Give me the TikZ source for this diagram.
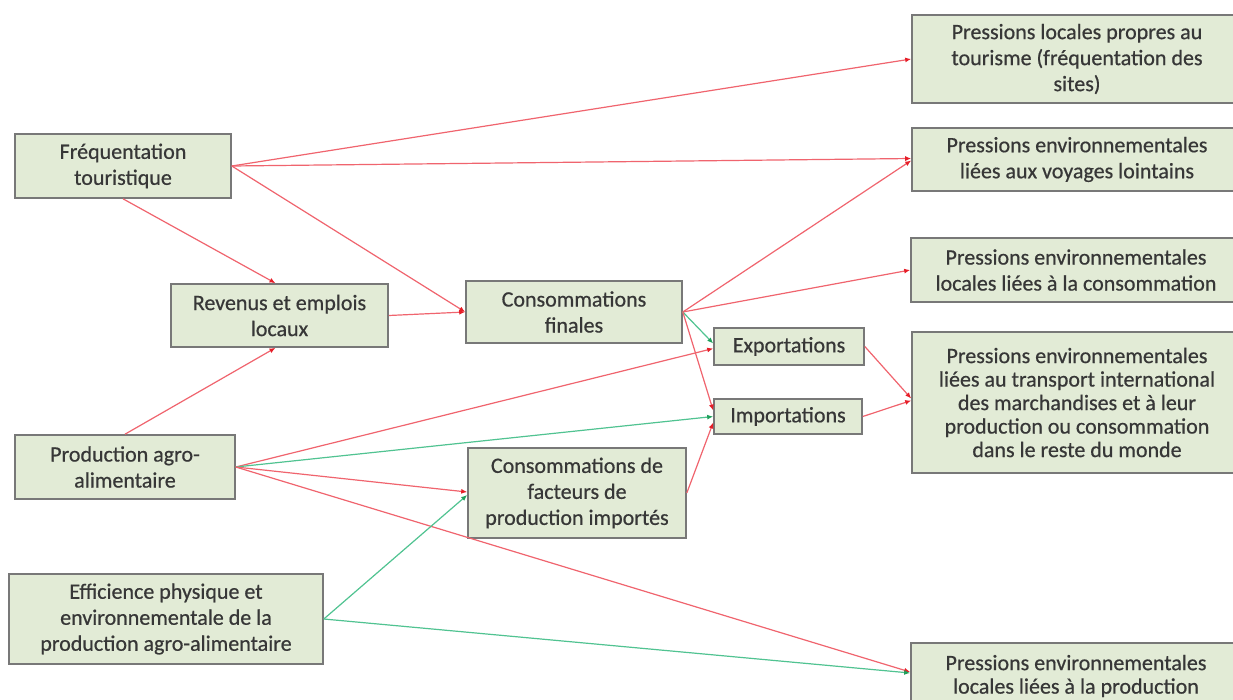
\documentclass[tikz,border=0pt]{standalone}
\usepackage{fontspec}
\setmainfont{Carlito}[FakeBold=0.6]
\usetikzlibrary{arrows.meta,calc}
\definecolor{boxfill}{RGB}{226,235,214}
\definecolor{boxdraw}{RGB}{120,120,120}
\definecolor{txt}{RGB}{55,55,55}
\definecolor{lred}{RGB}{240,100,110}
\definecolor{tred}{RGB}{230,30,40}
\definecolor{lgreen}{RGB}{80,195,145}
\definecolor{tgreen}{RGB}{30,160,90}
\tikzset{
  bx/.style={draw=boxdraw, line width=1.6pt, fill=boxfill, text=txt, align=center, inner sep=0pt,
    font=\fontsize{22}{26}\selectfont},
  tight/.style={font=\fontsize{22}{23.5}\selectfont},
  rl/.style={draw=lred, line width=1.2pt, -{Latex[length=6pt,width=5pt,color=tred]}},
  gl/.style={draw=lgreen, line width=1.2pt, -{Latex[length=6pt,width=5pt,color=tgreen]}},
}
\begin{document}
\begin{tikzpicture}[x=1pt,y=-1pt]
\useasboundingbox (0,0) rectangle (1233,699);
\fill[white] (0,0) rectangle (1233,699);
% right column
\node[bx, minimum width=330pt, minimum height=88pt] (P1) at (1077,59) {Pressions locales propres au\\tourisme (fréquentation des\\sites)};
\node[bx, minimum width=330pt, minimum height=63pt] (P2) at (1077,159.5) {Pressions environnementales\\liées aux voyages lointains};
\node[bx, minimum width=330pt, minimum height=64pt] (P3) at (1076,270) {Pressions environnementales\\locales liées à la consommation};
\node[bx, tight, minimum width=330pt, minimum height=141pt] (P4) at (1077,402.5) {Pressions environnementales\\liées au transport international\\des marchandises et à leur\\production ou consommation\\dans le reste du monde};
\node[bx, tight, minimum width=330pt, minimum height=66pt] (P5) at (1076,676) {Pressions environnementales\\locales liées à la production};
% left and middle
\node[bx, minimum width=216pt, minimum height=64pt] (F) at (123,166) {Fréquentation\\touristique};
\node[bx, minimum width=217pt, minimum height=63pt] (R) at (279.5,315.5) {Revenus et emplois\\locaux};
\node[bx, minimum width=216pt, minimum height=62pt] (CF) at (574,312) {Consommations\\finales};
\node[bx, minimum width=150pt, minimum height=37pt] (E) at (789,346.5) {Exportations};
\node[bx, minimum width=148pt, minimum height=35pt] (I) at (788,416.5) {Importations};
\node[bx, minimum width=218pt, minimum height=90pt] (CFP) at (577,493) {Consommations de\\facteurs de\\production importés};
\node[bx, minimum width=220pt, minimum height=64pt] (PA) at (125,467) {Production agro-\\alimentaire};
\node[bx, minimum width=314pt, minimum height=90pt] (EF) at (166,619) {Efficience physique et\\environnementale de la\\production agro-alimentaire};
% connectors
\draw[rl] (F.east) -- (P1.west);
\draw[rl] (F.east) -- ($(P2.west)+(0,-1)$);
\draw[rl] (F.east) -- (CF.west);
\draw[rl] (F.south) -- ($(R.north)+(-4,0)$);
\draw[rl] (R.east) -- (CF.west);
\draw[rl] (PA.north) -- ($(R.south)+(-4,0)$);
\draw[rl] (CF.east) -- ($(P2.west)+(0,1)$);
\draw[rl] (CF.east) -- (P3.west);
\draw[gl] (CF.east) -- ($(E.west)+(0,-3)$);
\draw[rl] (CF.east) -- ($(I.west)+(0,-6)$);
\draw[rl] (PA.east) -- ($(E.west)+(0,2)$);
\draw[gl] (PA.east) -- ($(I.west)+(0,0)$);
\draw[rl] (PA.east) -- ($(CFP.west)+(0,-1)$);
\draw[rl] (PA.east) -- ($(P5.west)+(0,-4)$);
\draw[gl] (EF.east) -- ($(CFP.west)+(0,2)$);
\draw[gl] (EF.east) -- ($(P5.west)+(0,-3)$);
\draw[rl] (CFP.east) -- ($(I.west)+(0,6)$);
\draw[rl] (E.east) -- ($(P4.west)+(0,-4)$);
\draw[rl] (I.east) -- ($(P4.west)+(0,-2)$);
\end{tikzpicture}
\end{document}
